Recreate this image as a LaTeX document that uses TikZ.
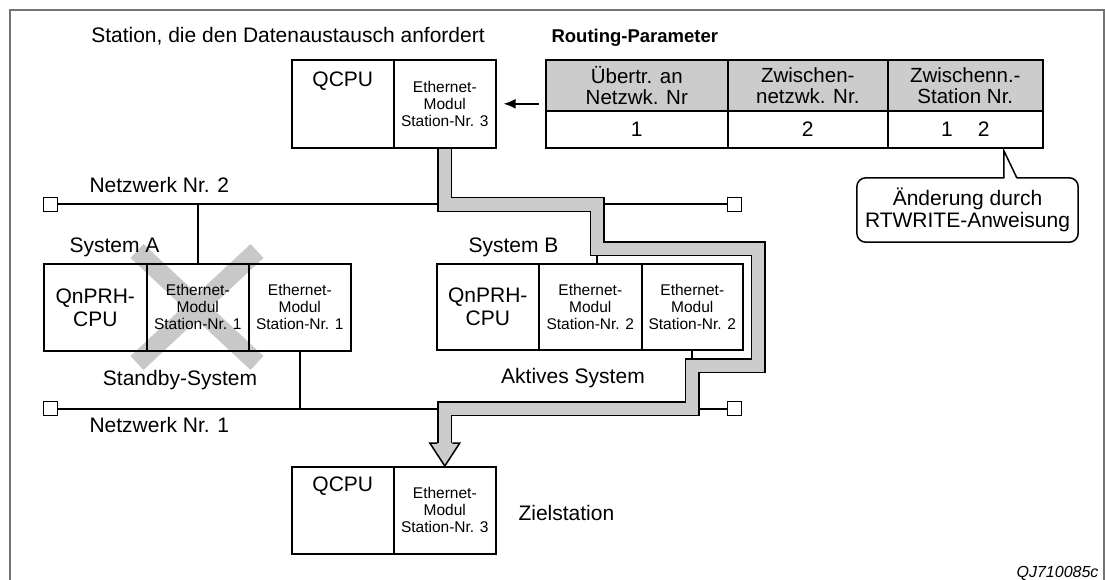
\documentclass[tikz,border=0pt]{standalone}
\usepackage{fontspec}
\setmainfont{Liberation Sans}
\usetikzlibrary{calc,arrows.meta}
\definecolor{bandgray}{RGB}{204,204,204}
\definecolor{xgray}{RGB}{200,200,200}
\definecolor{framegray}{RGB}{115,115,115}
\definecolor{hdrgray}{RGB}{204,204,204}
\begin{document}
\begin{tikzpicture}[x=1pt,y=-1pt,
  bigtext/.style={font=\fontsize{21}{22}\selectfont},
  smalltext/.style={font=\fontsize{15.5}{17}\selectfont},
  box/.style 2 args={draw, line width=1.6pt, minimum width=#1, minimum height=#2,
    inner sep=0pt, anchor=north west, align=center},
  term/.style={draw, line width=1.5pt, minimum size=14pt, inner sep=0pt, fill=white},
  wire/.style={line width=2pt},
  band/.style={line width=1.5pt, double=bandgray, double distance=12pt, line join=miter},
  xcross/.style={xgray, line width=19pt}
]
\useasboundingbox (0,0) rectangle (1105,580);
% frame
\draw[framegray, line width=2pt] (10,580) -- (10,10) -- (1104,10) -- (1104,580);

% cross behind system A
\draw[xcross] (137,251) -- (257,363);
\draw[xcross] (257,251) -- (137,363);

% requesting station
\node[box={102pt}{88pt}] (qcpu) at (291,59) {};
\node[bigtext, anchor=base] (qcputxt) at ($(qcpu.north)+(0,28)$) {QCPU};
\node[box={102pt}{88pt}, smalltext] (qeth) at (393,59) {Ethernet-\\Modul\\Station-Nr. 3};

% routing table
\node[box={182pt}{51pt}, fill=hdrgray, font=\fontsize{20.5}{21}\selectfont] (h1) at (545,59) {Übertr. an\\Netzwk. Nr};
\node[box={160pt}{51pt}, fill=hdrgray, font=\fontsize{20.5}{21}\selectfont] (h2) at (727,59) {Zwischen-\\netzwk. Nr.};
\node[box={155pt}{51pt}, fill=hdrgray, font=\fontsize{20.5}{21}\selectfont] (h3) at (887,59) {Zwischenn.-\\Station Nr.};
\node[box={182pt}{37pt}, bigtext] (v1) at (545,110) {1};
\node[box={160pt}{37pt}, bigtext] (v2) at (727,110) {2};
\node[box={155pt}{37pt}, bigtext] (v3) at (887,110) {1\hspace{25pt}2};

\node[bigtext, anchor=base] (title) at (288,43) {Station, die den Datenaustausch anfordert};
\node[font=\fontsize{18.5}{20}\selectfont\bfseries, anchor=base west] (rp) at (548,43) {Routing-Parameter};

\draw[line width=1.8pt, -{Latex[length=12pt,width=10pt]}]
  ($(h1.north west)!0.5!(v1.south west)+(-6,0)$) -- ([xshift=7pt]qeth.east);

% callout
\node[bigtext, align=center, minimum width=221pt, minimum height=64pt, inner sep=0pt] (co) at (967.5,210) {Änderung durch\\RTWRITE-Anweisung};
\coordinate (tip) at ([xshift=38.5pt, yshift=-2pt]v3.south);
\draw[line width=1.5pt, line cap=round]
  ($(co.north west)+(160,0)$) -- (tip) -- (tip |- co.north)
  [rounded corners=9pt] -- (co.north west) -- (co.south west) -- (co.south east)
  -- (co.north east) -- ($(co.north west)+(160,0)$);

% networks
\node[term] (n2l) at (50.5,204.5) {};
\node[term] (n2r) at (734.5,204.5) {};
\node[term] (n1l) at (50.5,408.5) {};
\node[term] (n1r) at (734.5,408.5) {};
\draw[wire] (n2l) -- (n2r);
\draw[wire] (n1l) -- (n1r);
\node[bigtext, anchor=base west] (n2t) at (86,193) {Netzwerk Nr. 2};
\node[bigtext, anchor=base west] (n1t) at (86,432) {Netzwerk Nr. 1};

% system A
\node[box={103pt}{87pt}, font=\fontsize{21}{23}\selectfont] (a1) at (43,263) {QnPRH-\\CPU};
\node[box={102pt}{87pt}, smalltext] (a2) at (146,263) {Ethernet-\\Modul\\Station-Nr. 1};
\node[box={102pt}{87pt}, smalltext] (a3) at (248,263) {Ethernet-\\Modul\\Station-Nr. 1};
\node[bigtext, anchor=base west] (sa) at (66,252) {System A};
\node[bigtext, anchor=base] (sby) at (180,385) {Standby-System};

% system B
\node[box={102pt}{86pt}, font=\fontsize{21}{23}\selectfont] (b1) at (436,263) {QnPRH-\\CPU};
\node[box={103pt}{86pt}, smalltext] (b2) at (538,263) {Ethernet-\\Modul\\Station-Nr. 2};
\node[box={101pt}{86pt}, smalltext] (b3) at (641,263) {Ethernet-\\Modul\\Station-Nr. 2};
\node[bigtext, anchor=base west] (sb) at (465,252) {System B};
\node[bigtext, anchor=base] (act) at (573,383) {Aktives System};

% target station
\node[box={102pt}{87pt}] (zcpu) at (291,466) {};
\node[bigtext, anchor=base] (zcputxt) at ($(zcpu.north)+(0,25)$) {QCPU};
\node[box={102pt}{87pt}, smalltext] (z2) at (393,466) {Ethernet-\\Modul\\Station-Nr. 3};
\node[bigtext, anchor=base west] (ziel) at (515,520) {Zielstation};

% drops
\coordinate (d2) at ([xshift=7pt]b2.north);
\draw[wire] (a2.north) -- (a2.north |- n2l);
\draw[wire] (d2) -- (d2 |- n2l);
\draw[wire] (a3.south) -- (a3.south |- n1l);
\draw[wire] (b3.south) -- (b3.south |- n1l);

% data path band
\coordinate (p1) at (qeth.south |- n2l);
\coordinate (p2) at (d2 |- n2l);
\coordinate (p3) at ($(d2)+(0,-14.5)$);
\coordinate (p4) at ($(b3.north east)+(14.5,-14.5)$);
\coordinate (p5) at ($(b3.south east)+(14.5,15)$);
\coordinate (p6) at (b3.south |- p5);
\coordinate (p7) at (b3.south |- n1l);
\coordinate (p8) at (z2.north |- n1l);
\coordinate (p9) at ($(z2.north)+(0,-23)$);
\draw[band] (qeth.south) -- (p1) -- (p2) -- (p3) -- (p4) -- (p5) -- (p6) -- (p7) -- (p8) -- (p9);
\fill[bandgray] ($(p9)+(-15,0)$) -- (z2.north) -- ($(p9)+(15,0)$) -- cycle;
\draw[line width=1.5pt, line join=miter]
  ($(p9)+(-7.5,0)$) -- ($(p9)+(-15,0)$) -- (z2.north) -- ($(p9)+(15,0)$) -- ($(p9)+(7.5,0)$);

\node[font=\fontsize{16}{17}\selectfont\itshape, anchor=base east] (code) at (1102,577) {QJ710085c};
\end{tikzpicture}
\end{document}
